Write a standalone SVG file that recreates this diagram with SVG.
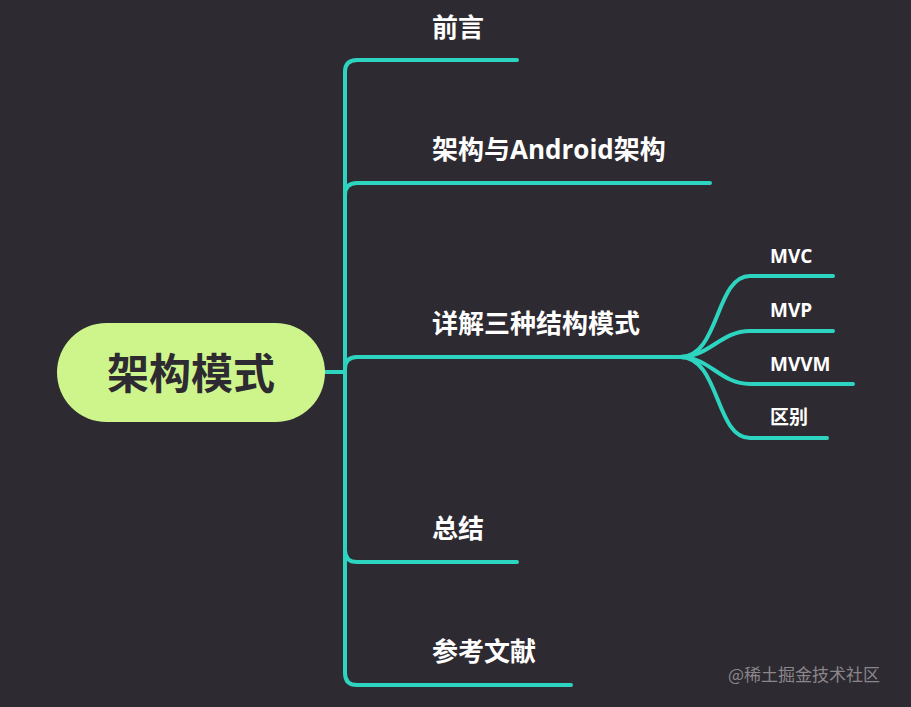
<svg xmlns="http://www.w3.org/2000/svg" width="911" height="707" viewBox="0 0 911 707">
<style>
.c{fill:none;stroke:#2dd4bf;stroke-width:4;stroke-linecap:round}
.t{font-family:"Open Sans","Noto Sans CJK SC",sans-serif;font-weight:bold;fill:#fff}
.m{font-size:26px}.s{font-size:19px}
</style>
<rect width="911" height="707" fill="#2e2a31"/>
<g id="connectors">
<path class="c" d="M325 372H345"/>
<path class="c" d="M517 60H357Q345 60 345 72V673Q345 685 357 685H571"/>
<path class="c" d="M345 195Q345 183 357 183H710"/>
<path class="c" d="M345 369Q345 357 357 357H680"/>
<path class="c" d="M345 550Q345 562 357 562H517"/>
<path class="c" d="M680 357C720 357 715 276 750 276H833"/>
<path class="c" d="M680 357C710 357 720 331 750 331H833"/>
<path class="c" d="M680 357C710 357 720 384 750 384H853"/>
<path class="c" d="M680 357C720 357 715 438 750 438H827"/>
</g>
<g id="root"><rect x="57" y="323" width="268" height="99" rx="49.5" fill="#cdf58b"/>
<text x="191" y="389" text-anchor="middle" font-family="Noto Sans CJK SC,sans-serif" font-weight="bold" font-size="42" fill="#2e2a31">架构模式</text></g>
<g id="n1"><text class="t m" x="432" y="37">前言</text></g>
<g id="n2"><text class="t m" x="432" y="159">架构与Android架构</text></g>
<g id="n3"><text class="t m" x="432" y="333">详解三种结构模式</text></g>
<g id="n4"><text class="t m" x="432" y="538">总结</text></g>
<g id="n5"><text class="t m" x="432" y="661">参考文献</text></g>
<g id="s1"><text class="t s" x="770" y="263">MVC</text></g>
<g id="s2"><text class="t s" x="770" y="317">MVP</text></g>
<g id="s3"><text class="t s" x="770" y="371">MVVM</text></g>
<g id="s4"><text class="t s" x="770" y="424">区别</text></g>
<text x="728" y="681" font-family="Noto Sans CJK SC,sans-serif" font-size="17" fill="#8a868c">@稀土掘金技术社区</text>
</svg>
